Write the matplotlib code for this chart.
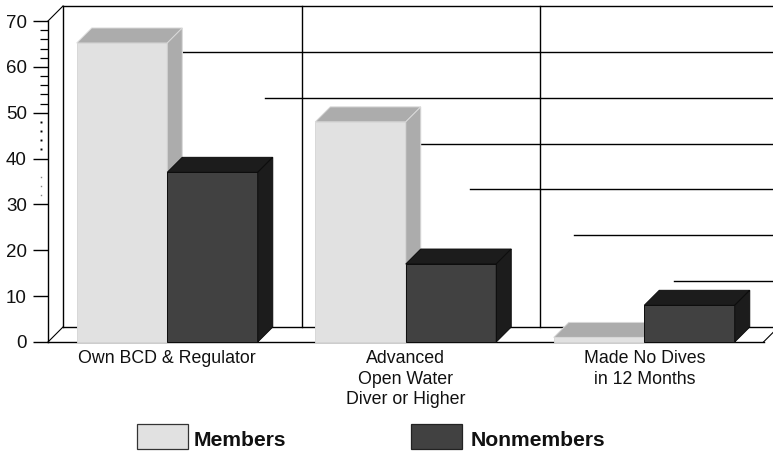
import matplotlib
matplotlib.use('Agg')
import matplotlib.pyplot as plt
from matplotlib.patches import Rectangle
from matplotlib.transforms import blended_transform_factory

plt.rcParams['font.family'] = ['Liberation Sans', 'DejaVu Sans']

categories = ['Own BCD & Regulator', 'Advanced\nOpen Water\nDiver or Higher', 'Made No Dives\nin 12 Months']
members = [65.2, 48, 1]
nonmembers = [37, 17, 8]
y_ticks = [0, 10, 20, 30, 40, 50, 60, 70]
solid_minor = [52, 54, 56, 58, 62, 64, 66, 68]
dotted_minor = [42, 44, 46, 48]
faint_minor = [32, 34, 36]
# where each back-wall gridline comes out from behind the bars
grid_starts = {10: 2.126, 20: 1.706, 30: 1.27, 40: 1.065, 50: 0.411, 60: 0.067, 70: -0.437}

W, H = 773, 451
fig = plt.figure(figsize=(W / 100, H / 100), dpi=100)
ax = fig.add_axes([48 / W, 1 - 342 / H, 715.5 / W, 321 / H])
ax.set_xlim(-0.5, 2.5)
ax.set_ylim(0, 70)

# depth of the 3d box, 15 px each way
dx = 15 / 238.5
dy = 15 / (321 / 70)
bar_w = 90.5 / 238.5

def box(x, h, front, shade, edge):
    ax.bar(x, h, bar_w, align='edge', color=front, edgecolor=edge, linewidth=0.7, zorder=4, clip_on=False)
    ax.fill([x, x + dx, x + bar_w + dx, x + bar_w], [h, h + dy, h + dy, h],
            facecolor=shade, edgecolor=edge, linewidth=0.7, zorder=4, clip_on=False)
    ax.fill([x + bar_w, x + bar_w + dx, x + bar_w + dx, x + bar_w], [0, dy, h + dy, h],
            facecolor=shade, edgecolor=edge, linewidth=0.7, zorder=4, clip_on=False)

# back wall and floor
lw = 1.0
ax.plot([-0.5 + dx, -0.5 + dx], [dy, 70 + dy], color='k', lw=lw, clip_on=False, zorder=1)
ax.plot([-0.5, -0.5 + dx], [70, 70 + dy], color='k', lw=0.8, clip_on=False, zorder=1)
ax.plot([-0.5, -0.5 + dx], [0, dy], color='k', lw=0.8, clip_on=False, zorder=1)
ax.plot([2.5, 2.5 + dx], [0, dy], color='k', lw=0.8, clip_on=False, zorder=1)
ax.plot([-0.5 + dx, 2.6], [dy, dy], color='k', lw=lw, clip_on=False, zorder=1)
for xv in [0.5 + dx, 1.5 + dx]:
    ax.plot([xv, xv], [dy, 70 + dy], color='k', lw=lw, clip_on=False, zorder=1)
for val, start in grid_starts.items():
    ax.plot([start, 2.6], [val + dy, val + dy], color='k', lw=lw, clip_on=False, zorder=1)

for i in range(len(categories)):
    box(i - bar_w, members[i], '#e1e1e1', '#acacac', '#d8d8d8')
for i in range(len(categories)):
    box(i, nonmembers[i], '#414141', '#1c1c1c', '#0c0c0c')

for s in ['top', 'right']:
    ax.spines[s].set_visible(False)
ax.spines['left'].set_linewidth(lw)
ax.spines['bottom'].set_linewidth(lw)

ax.set_yticks(y_ticks)
ax.set_yticks(solid_minor, minor=True)
ax.tick_params(axis='y', which='major', length=10.8, width=1.0, pad=4.5, labelsize=13.5, labelcolor='#111111')
ax.tick_params(axis='y', which='minor', length=5.5, width=0.9)
ax.set_xticks(range(len(categories)))
ax.set_xticklabels(categories, linespacing=1.3)
ax.tick_params(axis='x', length=0, pad=5.5, labelsize=12.8, labelcolor='#111111')

# minor ticks break up lower down the axis
tr = blended_transform_factory(ax.transAxes, ax.transData)
ax.plot([-0.0095] * len(dotted_minor), dotted_minor, ls='none', marker='s', ms=1.4, color='k',
        mew=0, transform=tr, clip_on=False)
ax.plot([-0.0095] * len(faint_minor), faint_minor, ls='none', marker='s', ms=1.0, color='#888888',
        mew=0, transform=tr, clip_on=False)

# legend
fig.add_artist(Rectangle((137 / W, 1 - 449 / H), 51 / W, 25 / H, transform=fig.transFigure,
                         facecolor='#e1e1e1', edgecolor='#333333', linewidth=0.9))
fig.add_artist(Rectangle((411 / W, 1 - 449 / H), 51 / W, 25 / H, transform=fig.transFigure,
                         facecolor='#414141', edgecolor='#222222', linewidth=0.9))
fig.text(194 / W, 1 - 441 / H, 'Members', fontsize=15.2, fontweight='bold', va='center', color='#111111')
fig.text(471 / W, 1 - 441 / H, 'Nonmembers', fontsize=15.2, fontweight='bold', va='center', color='#111111')

fig.savefig('out.png', dpi=100)
